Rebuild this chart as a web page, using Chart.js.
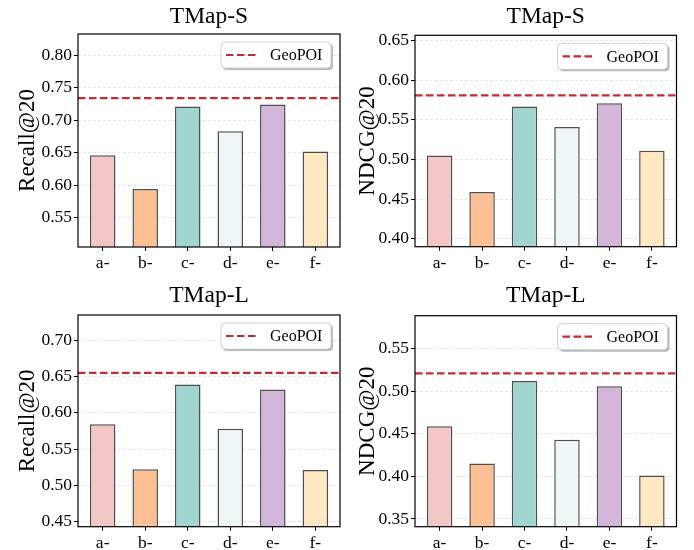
<!DOCTYPE html>
<html>
<head>
<meta charset="utf-8">
<script src="https://cdn.jsdelivr.net/npm/chart.js@4.4.1/dist/chart.umd.min.js"></script>
<style>
  html, body { margin: 0; padding: 0; background: #fff; }
  #wrap { position: relative; width: 694px; height: 550px; overflow: hidden; }
  .panel { position: absolute; width: 347px; height: 275px; }
  .panel canvas { display: block; }
</style>
</head>
<body>
<div id="wrap">
  <div class="panel" style="left:0;top:0"><canvas id="recallS" width="347" height="275"></canvas></div>
  <div class="panel" style="left:347px;top:0"><canvas id="ndcgS" width="347" height="275"></canvas></div>
  <div class="panel" style="left:0;top:275px"><canvas id="recallL" width="347" height="275"></canvas></div>
  <div class="panel" style="left:347px;top:275px"><canvas id="ndcgL" width="347" height="275"></canvas></div>
</div>
<script>
var categories = ["a-", "b-", "c-", "d-", "e-", "f-"];
var barColors = ["#f2c7c6", "#fdbf94", "#a1d5cf", "#eef6f8", "#d3b6da", "#fee8c4"];

var recallS = [0.646, 0.594, 0.721, 0.683, 0.724, 0.652];
var geoRecallS = 0.734;
var ndcgS = [0.505, 0.459, 0.567, 0.541, 0.571, 0.511];
var geoNdcgS = 0.581;
var recallL = [0.584, 0.522, 0.639, 0.578, 0.632, 0.521];
var geoRecallL = 0.655;
var ndcgL = [0.459, 0.415, 0.512, 0.443, 0.506, 0.401];
var geoNdcgL = 0.521;

var SERIF = "'Liberation Serif', 'Times New Roman', serif";
var xMin = -0.58, xMax = 5.58;

function roundRect(ctx, x, y, w, h, r) {
  ctx.beginPath();
  ctx.moveTo(x + r, y);
  ctx.lineTo(x + w - r, y);
  ctx.arcTo(x + w, y, x + w, y + r, r);
  ctx.lineTo(x + w, y + h - r);
  ctx.arcTo(x + w, y + h, x + w - r, y + h, r);
  ctx.lineTo(x + r, y + h);
  ctx.arcTo(x, y + h, x, y + h - r, r);
  ctx.lineTo(x, y + r);
  ctx.arcTo(x, y, x + r, y, r);
  ctx.closePath();
}

// legend box (inside, upper right) and the black frame round the axes
var frameLegend = {
  id: "frameLegend",
  afterDatasetsDraw: function (chart) {
    var a = chart.chartArea, ctx = chart.ctx;
    var geo = chart.data.datasets[0];
    var w = 110, h = 26;
    var x = a.right - 9 - w, y = a.top + 8;
    ctx.save();
    ctx.fillStyle = "rgba(0,0,0,0.28)";
    roundRect(ctx, x + 2, y + 2, w, h, 4);
    ctx.fill();
    ctx.fillStyle = "#fff";
    roundRect(ctx, x, y, w, h, 4);
    ctx.fill();
    ctx.strokeStyle = "#cfcfcf";
    ctx.lineWidth = 1;
    ctx.stroke();
    ctx.strokeStyle = geo.borderColor;
    ctx.lineWidth = geo.borderWidth;
    ctx.setLineDash(geo.borderDash);
    ctx.beginPath();
    ctx.moveTo(x + 5, y + h / 2);
    ctx.lineTo(x + 35, y + h / 2);
    ctx.stroke();
    ctx.setLineDash([]);
    ctx.fillStyle = "#000";
    ctx.font = "16px " + SERIF;
    ctx.textAlign = "left";
    ctx.textBaseline = "middle";
    ctx.fillText(geo.label, x + 49, y + h / 2 + 1);
    ctx.restore();
  },
  afterDraw: function (chart) {
    var a = chart.chartArea, ctx = chart.ctx;
    ctx.save();
    ctx.strokeStyle = "#000";
    ctx.lineWidth = 1.2;
    ctx.strokeRect(a.left, a.top, a.right - a.left, a.bottom - a.top);
    ctx.restore();
  }
};

function makePanel(id, title, yLabel, values, geo, lay) {
  var yMin = Math.min.apply(null, values) * 0.85;
  var yMax = Math.max.apply(null, values) * 1.15;
  return new Chart(document.getElementById(id), {
    type: "bar",
    data: {
      datasets: [
        {
          type: "line",
          label: "GeoPOI",
          data: [{ x: xMin, y: geo }, { x: xMax, y: geo }],
          borderColor: "#c62a2f",
          borderWidth: 2.2,
          borderDash: [7.5, 3.5],
          pointRadius: 0,
          fill: false,
          order: 0
        },
        {
          type: "bar",
          label: yLabel,
          data: values.map(function (v, i) { return { x: i, y: v }; }),
          backgroundColor: barColors,
          borderColor: "rgba(35,35,35,0.8)",
          borderWidth: 1.5,
          barPercentage: 0.6,
          categoryPercentage: 1,
          order: 1
        }
      ]
    },
    options: {
      responsive: false,
      animation: false,
      layout: { padding: { left: 0, right: lay.padRight, top: 0, bottom: 0 } },
      scales: {
        x: {
          type: "linear",
          min: xMin,
          max: xMax,
          offset: false,
          afterBuildTicks: function (s) {
            s.ticks = categories.map(function (c, i) { return { value: i }; });
          },
          afterFit: function (s) { s.height = lay.xHeight; },
          ticks: {
            color: "#000",
            padding: 2,
            autoSkip: false,
            maxRotation: 0,
            font: { family: SERIF, size: 17.5 },
            callback: function (v) { return categories[v]; }
          },
          grid: { drawOnChartArea: false, offset: false, tickLength: 4, tickColor: "#000", tickWidth: 1 },
          border: { display: false }
        },
        y: {
          min: yMin,
          max: yMax,
          afterFit: function (s) { s.width = lay.yWidth; },
          ticks: {
            stepSize: 0.05,
            includeBounds: false,
            color: "#000",
            padding: 2,
            font: { family: SERIF, size: 17.5 },
            callback: function (v) { return v.toFixed(2); }
          },
          grid: { color: "rgba(0,0,0,0.13)", lineWidth: 0.8, tickLength: 4, tickColor: "#000", tickWidth: 1, tickBorderDash: [] },
          border: { display: false, dash: [3, 2] },
          title: {
            display: true,
            text: yLabel,
            color: "#000",
            font: { family: SERIF, size: 23, lineHeight: 1.2 },
            padding: { top: lay.yTitleTop, bottom: 0 }
          }
        }
      },
      plugins: {
        legend: { display: false },
        tooltip: { enabled: false },
        title: {
          display: true,
          text: title,
          fullSize: false,
          color: "#000",
          font: { family: SERIF, size: 23.5, weight: "normal", lineHeight: 1.2 },
          padding: { top: lay.titleTop, bottom: lay.titleBottom }
        }
      }
    },
    plugins: [frameLegend]
  });
}

makePanel("recallS", "TMap-S", "Recall@20", recallS, geoRecallS,
  { yWidth: 78, padRight: 7, titleTop: 2.4, titleBottom: 3.4, xHeight: 28, yTitleTop: 14.5 });
makePanel("ndcgS", "TMap-S", "NDCG@20", ndcgS, geoNdcgS,
  { yWidth: 68, padRight: 17.5, titleTop: 2.4, titleBottom: 4.7, xHeight: 28.3, yTitleTop: 6.7 });
makePanel("recallL", "TMap-L", "Recall@20", recallL, geoRecallL,
  { yWidth: 78, padRight: 7, titleTop: 6.7, titleBottom: 5.1, xHeight: 23.3, yTitleTop: 14.5 });
makePanel("ndcgL", "TMap-L", "NDCG@20", ndcgL, geoNdcgL,
  { yWidth: 68, padRight: 17.5, titleTop: 6.7, titleBottom: 5.8, xHeight: 23.3, yTitleTop: 6.7 });
</script>
</body>
</html>
